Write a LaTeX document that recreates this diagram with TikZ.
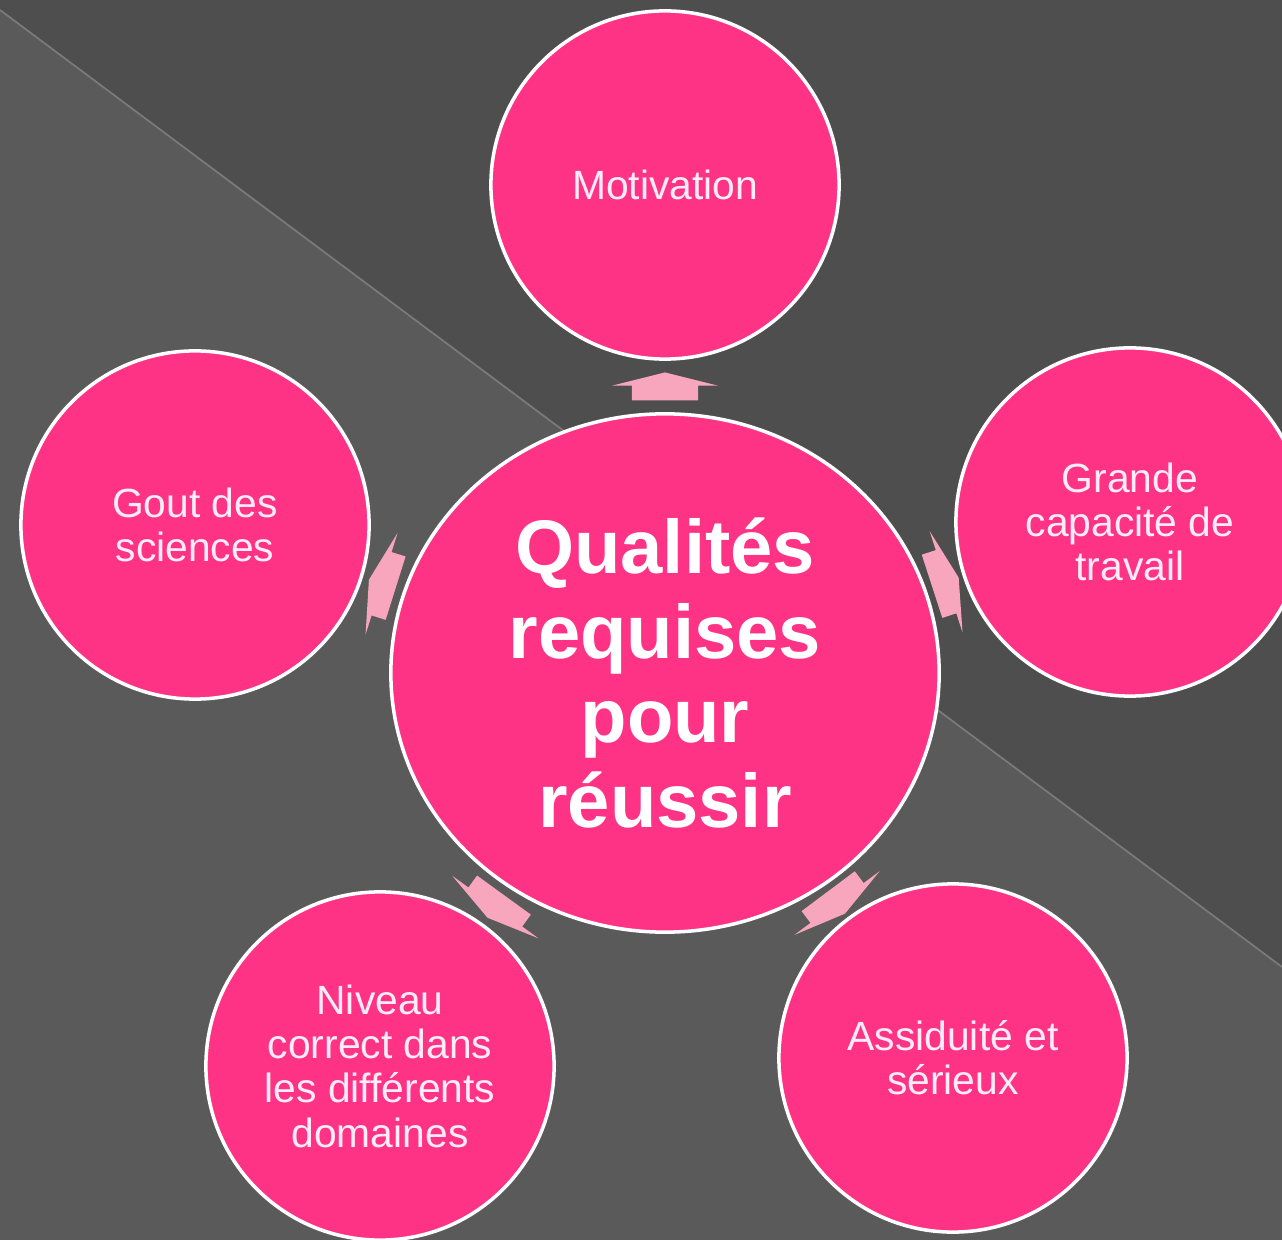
\documentclass[tikz,border=0pt]{standalone}
\usepackage{fontspec}
\setmainfont{Liberation Sans}
\usetikzlibrary{shapes.geometric,shapes.arrows}
\definecolor{bgdark}{RGB}{78,78,78}
\definecolor{bglight}{RGB}{90,90,90}
\definecolor{diagline}{RGB}{122,122,122}
\definecolor{bubblepink}{RGB}{255,51,133}
\definecolor{arrowpink}{RGB}{248,166,190}
\definecolor{bubbletext}{RGB}{255,236,246}
\tikzset{
  bubble/.style={circle, fill=bubblepink, draw=white, line width=1pt, minimum size=3.48cm,
    inner sep=0pt, align=center, text=bubbletext, font=\fontsize{11.6}{12.6}\selectfont},
  hub/.style={ellipse, fill=bubblepink, draw=white, line width=1pt, minimum width=5.48cm,
    minimum height=5.18cm, inner sep=0pt, align=center, text=white,
    font=\fontsize{21.6}{24}\selectfont\bfseries},
  flowarrow/.style={single arrow, fill=arrowpink, draw=none, minimum height=0.28cm,
    inner xsep=0pt, inner ysep=0.325cm, single arrow head extend=0.2cm,
    single arrow tip angle=152, sloped, allow upside down, pos=0.42}
}
\begin{document}
\begin{tikzpicture}[x=0.01cm,y=-0.01cm]
\useasboundingbox (0,0) rectangle (1282,1240);
\clip (0,0) rectangle (1282,1240);
\fill[bgdark] (0,0) rectangle (1282,1240);
\fill[bglight] (0,10) -- (1282,967) -- (1282,1240) -- (0,1240) -- cycle;
\draw[diagline, line width=0.5pt] (0,10) -- (1282,967);
\node[hub] (qual) at (665,673) {Qualités\\requises\\pour\\réussir};
\node[bubble] (mot) at (665,185) {Motivation};
\node[bubble] (gout) at (195,525) {Gout des\\sciences};
\node[bubble] (cap) at (1130,522) {Grande\\capacité de\\travail};
\node[bubble] (niv) at (380,1066) {Niveau\\correct dans\\les différents\\domaines};
\node[bubble] (ass) at (953,1058) {Assiduité et\\sérieux};
\foreach \n in {mot,gout,cap,niv,ass}
  \path (qual) -- node[flowarrow] {} (\n);
\end{tikzpicture}
\end{document}
